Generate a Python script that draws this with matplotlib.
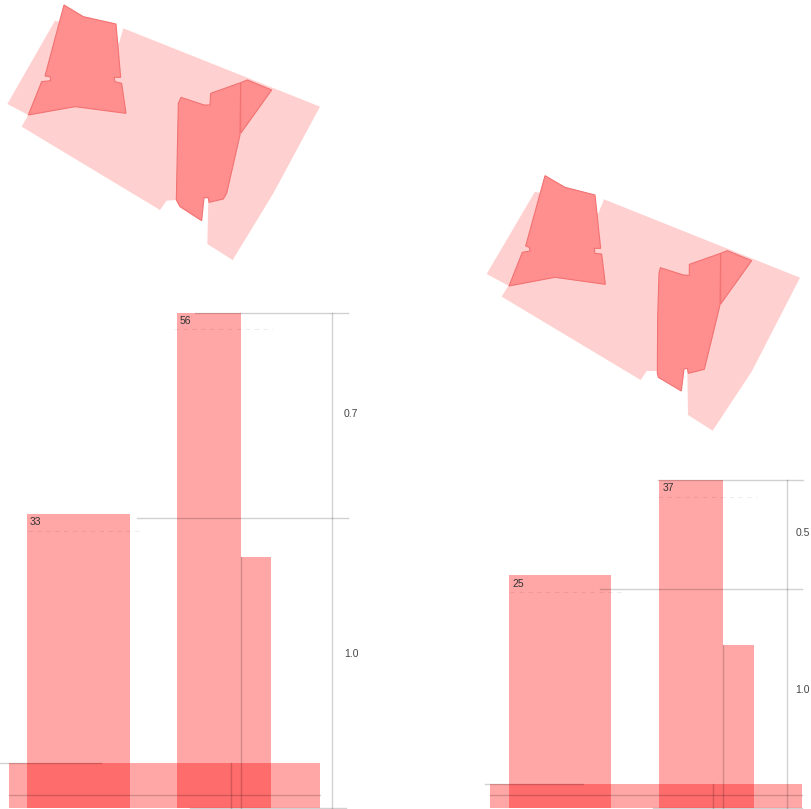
import matplotlib
matplotlib.use("Agg")
import matplotlib.pyplot as plt
from matplotlib.patches import Polygon

W, H = 811, 809
plt.rcParams["font.family"] = ["Liberation Sans", "DejaVu Sans"]

# map outlines, in the units of each map axes
left_light = [(370, 85), (960, 320), (820, 580), (698, 780), (622, 732), (625, 595), (527, 600),
              (500, 602), (480, 630), (65, 380), (85, 345), (22, 312), (165, 62), (300, 100), (357, 130)]
left_west = [(192, 15), (250, 50), (348, 72), (362, 232), (342, 232), (345, 245), (365, 250), (378, 340),
             (225, 320), (85, 345), (125, 245), (152, 242), (150, 230), (135, 228)]
left_mid = [(543, 292), (612, 315), (630, 315), (632, 280), (722, 248), (720, 405), (680, 580), (670, 597),
            (627, 607), (625, 593), (612, 593), (605, 662), (540, 620), (529, 600), (535, 310)]
left_east = [(722, 248), (742, 240), (815, 270), (722, 400)]

right_light = [(372, 88), (960, 323), (815, 605), (698, 782), (624, 735), (622, 595), (530, 603),
               (500, 603), (482, 630), (65, 380), (85, 347), (20, 312), (165, 65), (300, 100), (355, 130)]
right_west = [(195, 17), (255, 52), (345, 75), (362, 235), (343, 235), (345, 250), (365, 252), (376, 343),
              (225, 322), (87, 348), (127, 247), (150, 243), (148, 232), (137, 228)]
right_mid = [(541, 293), (610, 315), (628, 316), (628, 283), (722, 250), (720, 405), (673, 598), (625, 610),
             (622, 595), (612, 597), (604, 663), (535, 622), (532, 610), (533, 440), (537, 310)]
right_east = [(722, 250), (742, 242), (815, 272), (722, 402)]

# bars: x start, width, height on the value scale
left_x = [0.058, 0.54, 0.746]
left_w = [0.33, 0.206, 0.098]
left_h = [1.014, 1.707, 0.866]
left_band = 0.155
left_labels = ["33", "56", ""]
left_ticks = [(1.358, "0.7"), (0.531, "1.0")]

right_x = [0.061, 0.542, 0.746]
right_w = [0.328, 0.204, 0.099]
right_h = [1.064, 1.498, 0.744]
right_band = 0.11
right_labels = ["25", "37", ""]
right_ticks = [(1.256, "0.5"), (0.539, "1.0")]


def px_axes(fig, x, y, w, h):
    """Axes placed by pixel box, y measured from the top of the figure."""
    ax = fig.add_axes([x / W, 1 - (y + h) / H, w / W, h / H])
    ax.axis("off")
    return ax


def draw_map(ax, light, pieces):
    ax.set_xlim(0, 990)
    ax.set_ylim(810, 0)
    ax.add_patch(Polygon(light, closed=True, fc="#ffd0d0", ec="none"))
    for p in pieces:
        ax.add_patch(Polygon(p, closed=True, fc="#ff8e8e", ec="#f27272", lw=0.8, joinstyle="miter"))


def draw_panel(ax, xs, ws, hs, band, labels, ticks, lines):
    ax.set_xlim(0, 1)
    ax.set_ylim(0, max(hs))
    red = dict(color="#ff0000", alpha=0.35, linewidth=0, align="edge", clip_on=False)
    ax.bar(xs, hs, width=ws, **red)
    ax.bar([0], [band], width=[1], **red)

    grey = dict(color="black", alpha=0.18, lw=1, clip_on=False)
    for y, x0, x1 in lines["h"]:
        ax.plot([x0, x1], [y, y], **grey)
    for x, y0, y1 in lines["v"]:
        ax.plot([x, x], [y0, y1], **grey)
    for y, x0, x1 in lines["dash"]:
        ax.plot([x0, x1], [y, y], color="black", alpha=0.07, lw=0.8, ls=(0, (4, 4)), clip_on=False)

    for x, h, lab in zip(xs, hs, labels):
        ax.annotate(lab, (x, h), xytext=(2.2, -2.5), textcoords="offset points",
                    fontsize=7.5, va="top", ha="left", color="#333333")
    for y, lab in ticks:
        ax.text(lines["tick_x"], y, lab, fontsize=7.5, va="center", ha="left", color="#444444", clip_on=False)


fig = plt.figure(figsize=(W / 100, H / 100), dpi=100)

draw_map(px_axes(fig, 0, 0, 330, 270), left_light, [left_west, left_mid, left_east])
draw_map(px_axes(fig, 480, 170, 330, 270), right_light, [right_west, right_mid, right_east])

left_lines = {
    "h": [(1.707, 0.598, 1.09), (1.0, 0.412, 1.09), (0.0, 0.582, 1.082),
          (left_band, -0.029, 0.296), (0.045, 0.0, 1.0)],
    "v": [(1.039, 0.0, 1.707), (0.746, 0.0, 0.866), (0.714, 0.0, left_band)],
    "dash": [(0.955, 0.061, 0.431), (1.652, 0.531, 0.849)],
    "tick_x": 1.077,
}
right_lines = {
    "h": [(1.498, 0.538, 1.003), (1.0, 0.353, 1.0), (0.0, 0.522, 1.0),
          (right_band, -0.016, 0.298), (0.059, 0.0, 1.0)],
    "v": [(0.951, 0.0, 1.498), (0.746, 0.0, 0.744), (0.715, 0.0, right_band)],
    "dash": [(0.986, 0.064, 0.436), (1.42, 0.538, 0.855)],
    "tick_x": 0.978,
}

draw_panel(px_axes(fig, 9, 313, 311, 495), left_x, left_w, left_h, left_band,
           left_labels, left_ticks, left_lines)
draw_panel(px_axes(fig, 490, 480, 312, 328), right_x, right_w, right_h, right_band,
           right_labels, right_ticks, right_lines)

fig.savefig("out.png", dpi=100)
